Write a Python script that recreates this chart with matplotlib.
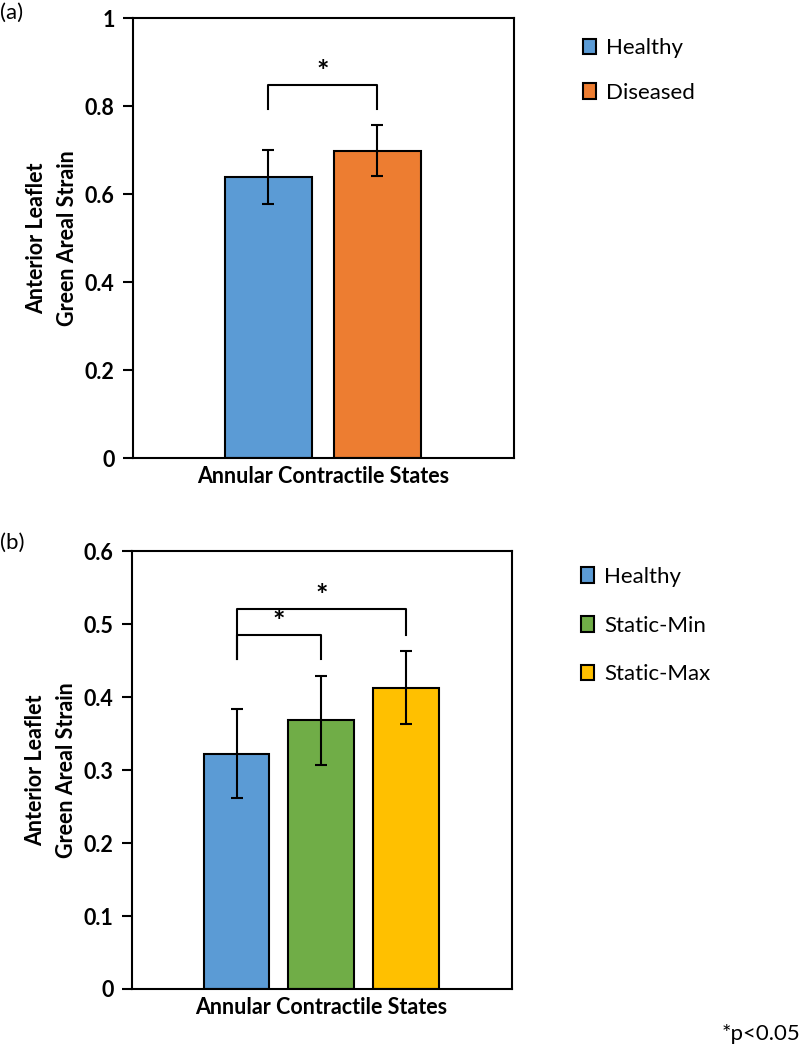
import matplotlib
matplotlib.use("Agg")
import matplotlib.pyplot as plt
from matplotlib.ticker import FuncFormatter

plt.rcParams['font.family'] = ['Lato', 'DejaVu Sans']

# panel (a)
labels_a = ["Healthy", "Diseased"]
means_a = [0.638, 0.698]
errs_a = [0.061, 0.058]
colors_a = ["#5B9BD5", "#ED7D31"]

# panel (b)
labels_b = ["Healthy", "Static-Min", "Static-Max"]
means_b = [0.322, 0.368, 0.413]
errs_b = [0.061, 0.061, 0.050]
colors_b = ["#5B9BD5", "#70AD47", "#FFC000"]

xlabel = "Annular Contractile States"
ylabel = "Anterior Leaflet\nGreen Areal Strain"

FS = 15.5


def draw_panel(ax, labels, means, errs, colors, ymax, ystep, width):
    x = list(range(len(means)))
    bars = ax.bar(x, means, width=width, color=colors, edgecolor="black",
                  linewidth=1.5, label=labels, zorder=2)
    ax.errorbar(x, means, yerr=errs, fmt="none", ecolor="black",
                elinewidth=1.5, capsize=4.5, capthick=1.5, zorder=3)
    ax.set_ylim(0, ymax)
    ax.set_yticks([i * ystep for i in range(int(round(ymax / ystep)) + 1)])
    ax.yaxis.set_major_formatter(FuncFormatter(lambda v, p: "%g" % round(v, 2)))
    ax.set_xticks([])
    ax.tick_params(axis="y", direction="out", length=7, width=1.5,
                   labelsize=FS, pad=6)
    for lab in ax.get_yticklabels():
        lab.set_fontweight("bold")
    for s in ax.spines.values():
        s.set_linewidth(1.5)
    ax.set_xlabel(xlabel, fontsize=FS, fontweight="bold", labelpad=6)
    ax.set_ylabel(ylabel, fontsize=FS, fontweight="bold", labelpad=5,
                  multialignment="center", linespacing=1.55)
    return bars


def bracket(ax, x0, x1, ytop, yl, yr):
    ax.plot([x0, x0, x1, x1], [yl, ytop, ytop, yr], color="black", lw=1.5,
            zorder=3)
    ax.text((x0 + x1) / 2, ytop, "*", ha="center", va="bottom",
            fontsize=21, fontweight="bold")


fig = plt.figure(figsize=(8, 10.5), dpi=100)

ax1 = fig.add_axes([0.166, 0.5638, 0.476, 0.419])
bars1 = draw_panel(ax1, labels_a, means_a, errs_a, colors_a, 1.0, 0.2, 0.8)
ax1.set_xlim(-1.245, 2.25)
bracket(ax1, 0, 1, 0.848, 0.794, 0.794)
ax1.legend(bars1, labels_a, loc="upper left", bbox_to_anchor=(1.13, 1.0),
           frameon=False, fontsize=16, handlelength=0.6, handleheight=0.7,
           handletextpad=0.45, labelspacing=1.1)
fig.text(0.0, 0.988, "(a)", fontsize=16, va="center", ha="left")

ax2 = fig.add_axes([0.1646, 0.0581, 0.475, 0.4171])
bars2 = draw_panel(ax2, labels_b, means_b, errs_b, colors_b, 0.6, 0.1, 0.775)
ax2.set_xlim(-1.24, 3.25)
bracket(ax2, 0, 1, 0.485, 0.452, 0.452)
bracket(ax2, 0, 2, 0.520, 0.452, 0.485)
ax2.legend(bars2, labels_b, loc="upper left", bbox_to_anchor=(1.13, 1.01),
           frameon=False, fontsize=16, handlelength=0.6, handleheight=0.7,
           handletextpad=0.45, labelspacing=1.3)
fig.text(0.0, 0.483, "(b)", fontsize=16, va="center", ha="left")

fig.text(1.0, 0.015, "*p<0.05", fontsize=16, ha="right", va="center")

fig.savefig("out.png", dpi=100)
